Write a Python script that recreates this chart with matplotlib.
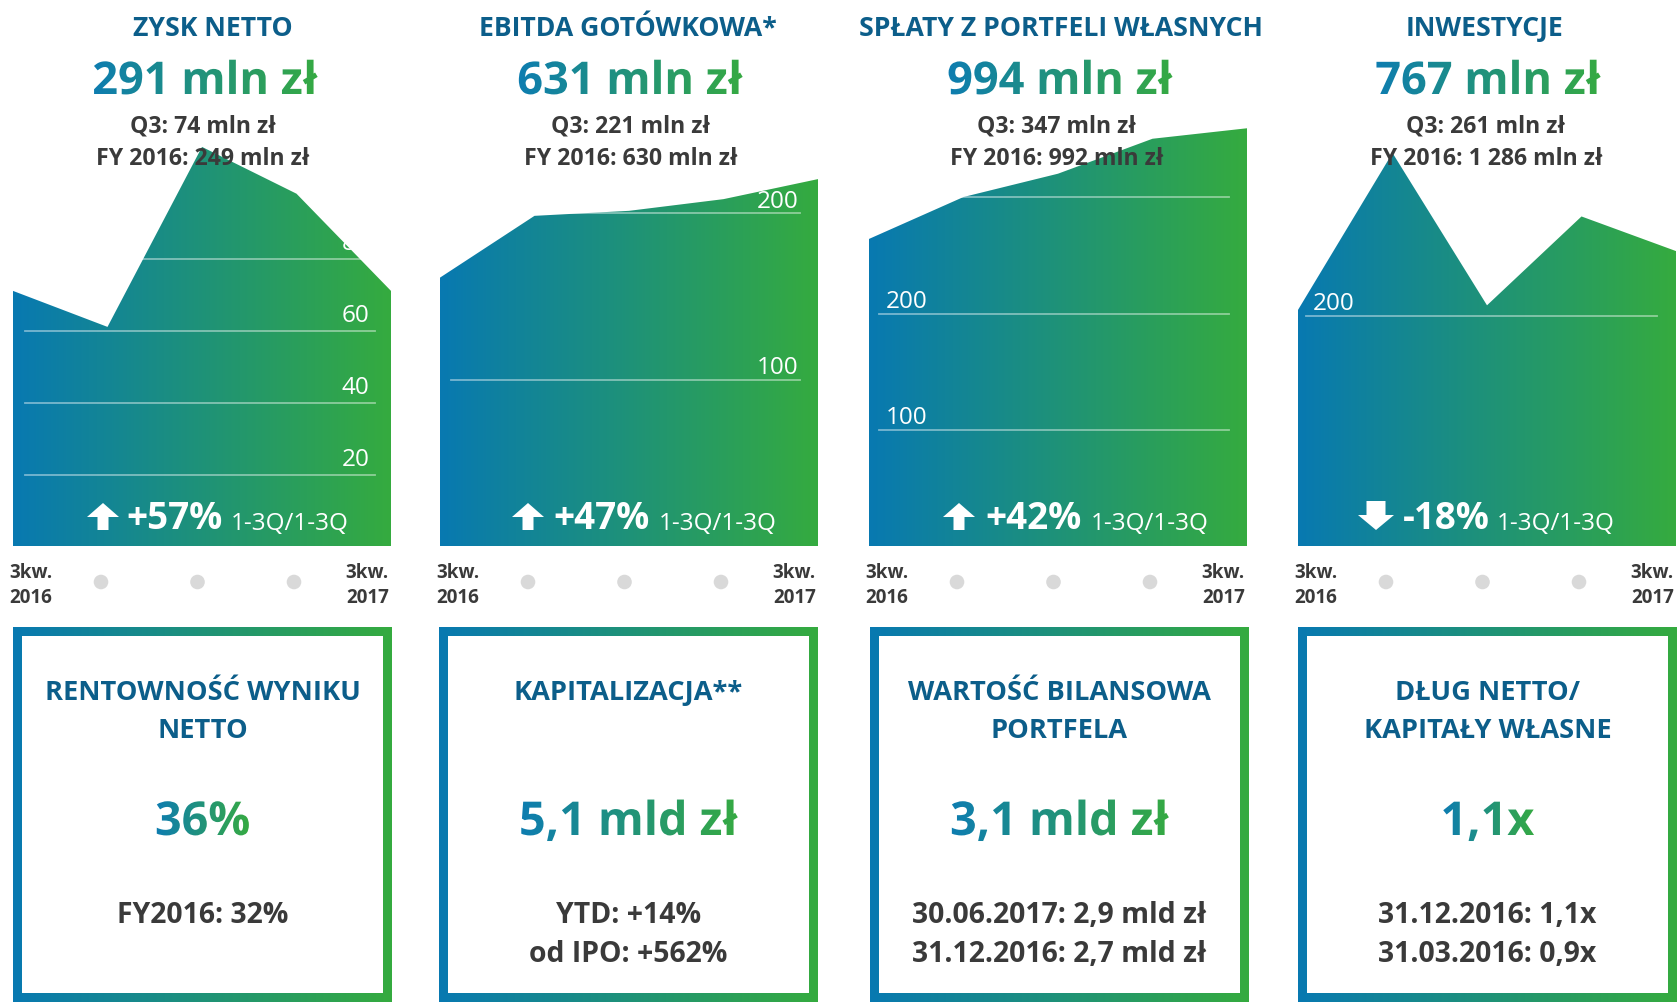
import numpy as np
import matplotlib
matplotlib.use('Agg')
import matplotlib.pyplot as plt
import matplotlib.colors as mcolors
import matplotlib.transforms as mtransforms
from matplotlib.patches import Rectangle, Circle, Polygon
from matplotlib.patheffects import AbstractPathEffect
from matplotlib.transforms import IdentityTransform, TransformedPath

# ---------------- data ----------------
quarters = [0, 1, 2, 3, 4]          # 3kw. 2016 ... 3kw. 2017
x_start_label = ['3kw.', '2016']
x_end_label = ['3kw.', '2017']

zysk_netto = [71, 61, 111, 98, 71]
ebitda_gotowkowa = [161, 198, 201, 208, 220]
splaty_portfeli = [264, 300, 320, 350, 359]
inwestycje = [205, 341, 209, 286, 256]
series = [zysk_netto, ebitda_gotowkowa, splaty_portfeli, inwestycje]

panel_titles = ['ZYSK NETTO', 'EBITDA GOTÓWKOWA*', 'SPŁATY Z PORTFELI WŁASNYCH', 'INWESTYCJE']
panel_values = ['291 mln zł', '631 mln zł', '994 mln zł', '767 mln zł']
panel_q3 = ['Q3: 74 mln zł', 'Q3: 221 mln zł', 'Q3: 347 mln zł', 'Q3: 261 mln zł']
panel_fy = ['FY 2016: 249 mln zł', 'FY 2016: 630 mln zł', 'FY 2016: 992 mln zł', 'FY 2016: 1 286 mln zł']
panel_change = ['+57%', '+47%', '+42%', '-18%']
change_up = [True, True, True, False]
change_period = '1-3Q/1-3Q'
grid_ticks = [[20, 40, 60, 80], [100, 200], [100, 200, 300], [200]]
label_ticks = [[20, 40, 60, 80], [100, 200], [100, 200], [200]]

box_titles = [['RENTOWNOŚĆ WYNIKU', 'NETTO'], ['KAPITALIZACJA**'],
              ['WARTOŚĆ BILANSOWA', 'PORTFELA'], ['DŁUG NETTO/', 'KAPITAŁY WŁASNE']]
box_values = ['36%', '5,1 mld zł', '3,1 mld zł', '1,1x']
box_notes = [['FY2016: 32%'], ['YTD: +14%', 'od IPO: +562%'],
             ['30.06.2017: 2,9 mld zł', '31.12.2016: 2,7 mld zł'],
             ['31.12.2016: 1,1x', '31.03.2016: 0,9x']]

# ---------------- style / layout ----------------
W, H = 1677, 1002
FONT = 'Open Sans'
BLUE = '#0879B1'
GREEN = '#35AB3F'
TITLE_C = '#0C5E8A'
DARK = '#3A3A3A'
DOT = '#D9D9D9'

panel_left = [13, 440, 869, 1298]
panel_w = 378
base_y = 546.5
axes_top = 100
px_per_unit = [3.6, 1.67, 1.165, 1.154]
grid_x = [(0.033, 0.958), (0.029, 0.953), (0.026, 0.953), (0.022, 0.95)]
lab_x = [(0.943, 'right'), (0.949, 'right'), (0.045, 'left'), (0.04, 'left')]
lab_off = [8, 5, 6, 6]

title_cx = [213, 628, 1061, 1485]
value_cx = [205, 630, 1060, 1488]
sub_cx = [203, 631, 1057, 1486]
arrow_cx = [103, 528, 959, 1376]
change_x = [126, 553, 985, 1403]
period_x = [231, 659, 1091, 1497]

box_left = [13, 439, 870, 1298]
box_w = 379
box_top = 627
box_bot = 1002
box_b = 9

cmap = mcolors.LinearSegmentedColormap.from_list('bg', [BLUE, GREEN])
grad = np.linspace(0, 1, 256).reshape(1, -1)


class GradientFill(AbstractPathEffect):
    """Fill a text path with a horizontal gradient (text stays a real Text)."""
    def __init__(self, c1, c2):
        super().__init__()
        self.c1 = np.array(mcolors.to_rgb(c1))
        self.c2 = np.array(mcolors.to_rgb(c2))

    def draw_path(self, renderer, gc, tpath, affine, rgbFace=None):
        path = affine.transform_path(tpath)
        ext = path.get_extents()
        x0 = int(np.floor(ext.x0)); y0 = int(np.floor(ext.y0))
        w = int(np.ceil(ext.x1)) - x0 + 1
        h = int(np.ceil(ext.y1)) - y0 + 1
        t = np.linspace(0, 1, w)[:, None]
        row = (self.c1 * (1 - t) + self.c2 * t) * 255
        img = np.zeros((h, w, 4), np.uint8)
        img[..., :3] = row[None, :, :].astype(np.uint8)
        img[..., 3] = 255
        gc2 = renderer.new_gc()
        gc2.copy_properties(gc)
        gc2.set_clip_path(TransformedPath(path, IdentityTransform()))
        renderer.draw_image(gc2, x0, y0, np.ascontiguousarray(img))
        gc2.restore()


fig = plt.figure(figsize=(W / 100, H / 100), dpi=100)
fig.patch.set_facecolor('white')

# ---------------- area panels ----------------
for i in range(4):
    L = panel_left[i]
    ax = fig.add_axes([L / W, (H - base_y) / H, panel_w / W, (base_y - axes_top) / H])
    ymax = (base_y - axes_top) / px_per_unit[i]
    vals = series[i]
    poly = ax.fill_between(quarters, 0, vals, facecolor='none', edgecolor='none')
    im = ax.imshow(grad, extent=(quarters[0], quarters[-1], 0, ymax), aspect='auto',
                   cmap=cmap, origin='lower', interpolation='bilinear', zorder=1)
    im.set_clip_path(poly.get_paths()[0], transform=ax.transData)
    ax.set_xlim(quarters[0], quarters[-1])
    ax.set_ylim(0, ymax)
    ax.axis('off')
    for t in grid_ticks[i]:
        ax.axhline(t, xmin=grid_x[i][0], xmax=grid_x[i][1], color='white',
                   alpha=0.45, lw=1.3, zorder=2)
    btr = mtransforms.blended_transform_factory(ax.transAxes, ax.transData)
    for t in label_ticks[i]:
        ax.text(lab_x[i][0], t + lab_off[i] / px_per_unit[i], str(t), transform=btr,
                ha=lab_x[i][1], va='baseline', color='white', fontsize=17.5,
                family=FONT, zorder=3)

# ---------------- overlay (text, boxes) ----------------
ov = fig.add_axes([0, 0, 1, 1], zorder=10)
ov.patch.set_alpha(0)

# boxes with gradient borders
for i in range(4):
    x0 = box_left[i]
    ov.imshow(grad, extent=(x0, x0 + box_w, box_bot, box_top), aspect='auto',
              cmap=cmap, interpolation='bilinear', zorder=1)
    ov.add_patch(Rectangle((x0 + box_b, box_top + box_b), box_w - 2 * box_b,
                           box_bot - box_top - 2 * box_b, facecolor='white',
                           edgecolor='none', zorder=2))
ov.set_xlim(0, W)
ov.set_ylim(H, 0)
ov.axis('off')

for i in range(4):
    L = panel_left[i]
    # headings
    ov.text(title_cx[i], 36, panel_titles[i], ha='center', va='baseline',
            fontsize=19.2, fontweight='bold', family=FONT, color=TITLE_C, zorder=5)
    ov.text(value_cx[i], 94, panel_values[i], ha='center', va='baseline',
            fontsize=32.5, fontweight='bold', family=FONT, zorder=5,
            path_effects=[GradientFill('#0E7DB0', '#36AA42')])
    ov.text(sub_cx[i], 132, panel_q3[i], ha='center', va='baseline',
            fontsize=16.6, fontweight='bold', family=FONT, color=DARK, zorder=5)
    ov.text(sub_cx[i], 164.5, panel_fy[i], ha='center', va='baseline',
            fontsize=16.6, fontweight='bold', family=FONT, color=DARK, zorder=5)

    # change arrow + text
    cx = arrow_cx[i]
    if change_up[i]:
        top, bot, hb = 503, 530, 517
        hw, sw = 16, 5.5
        pts = [(cx - hw, hb), (cx, top), (cx + hw, hb), (cx + sw, hb), (cx + sw, bot),
               (cx - sw, bot), (cx - sw, hb)]
    else:
        top, bot, hb = 501, 530, 515
        hw, sw = 18, 9.5
        pts = [(cx - hw, hb), (cx, bot), (cx + hw, hb), (cx + sw, hb), (cx + sw, top),
               (cx - sw, top), (cx - sw, hb)]
    ov.add_patch(Polygon(pts, closed=True, facecolor='white', edgecolor='none', zorder=5))
    ov.text(change_x[i], 529, panel_change[i], ha='left', va='baseline', fontsize=26.5,
            fontweight='bold', family=FONT, color='white', zorder=5)
    ov.text(period_x[i], 529.5, change_period, ha='left', va='baseline', fontsize=17.5,
            family=FONT, color='white', zorder=5)

    # x-axis: start/end labels and dots
    for k, s in enumerate(x_start_label):
        ov.text(L - 4, 578 + 25 * k, s, ha='left', va='baseline', fontsize=13.5,
                fontweight='bold', family=FONT, color=DARK, zorder=5)
    xr = min(L + 376, W - 1)
    for k, s in enumerate(x_end_label):
        ov.text(xr, 578 + 25 * k, s, ha='right', va='baseline', fontsize=13.5,
                fontweight='bold', family=FONT, color=DARK, zorder=5)
    for dx in (88, 184.5, 281):
        ov.add_patch(Circle((L + dx, 582), 7.3, facecolor=DOT, edgecolor='none', zorder=5))

    # bottom boxes text
    bcx = box_left[i] + box_w / 2
    for k, s in enumerate(box_titles[i]):
        ov.text(bcx, 700 + 38 * k, s, ha='center', va='baseline', fontsize=19.6,
                fontweight='bold', family=FONT, color=TITLE_C, zorder=5)
    ov.text(bcx, 835, box_values[i], ha='center', va='baseline', fontsize=33.6,
            fontweight='bold', family=FONT, zorder=5,
            path_effects=[GradientFill('#0E7DB0', '#36AA42')])
    for k, s in enumerate(box_notes[i]):
        ov.text(bcx, 923 + 38.5 * k, s, ha='center', va='baseline', fontsize=20.4,
                fontweight='bold', family=FONT, color=DARK, zorder=5)

fig.savefig('out.png', dpi=100, facecolor='white')
